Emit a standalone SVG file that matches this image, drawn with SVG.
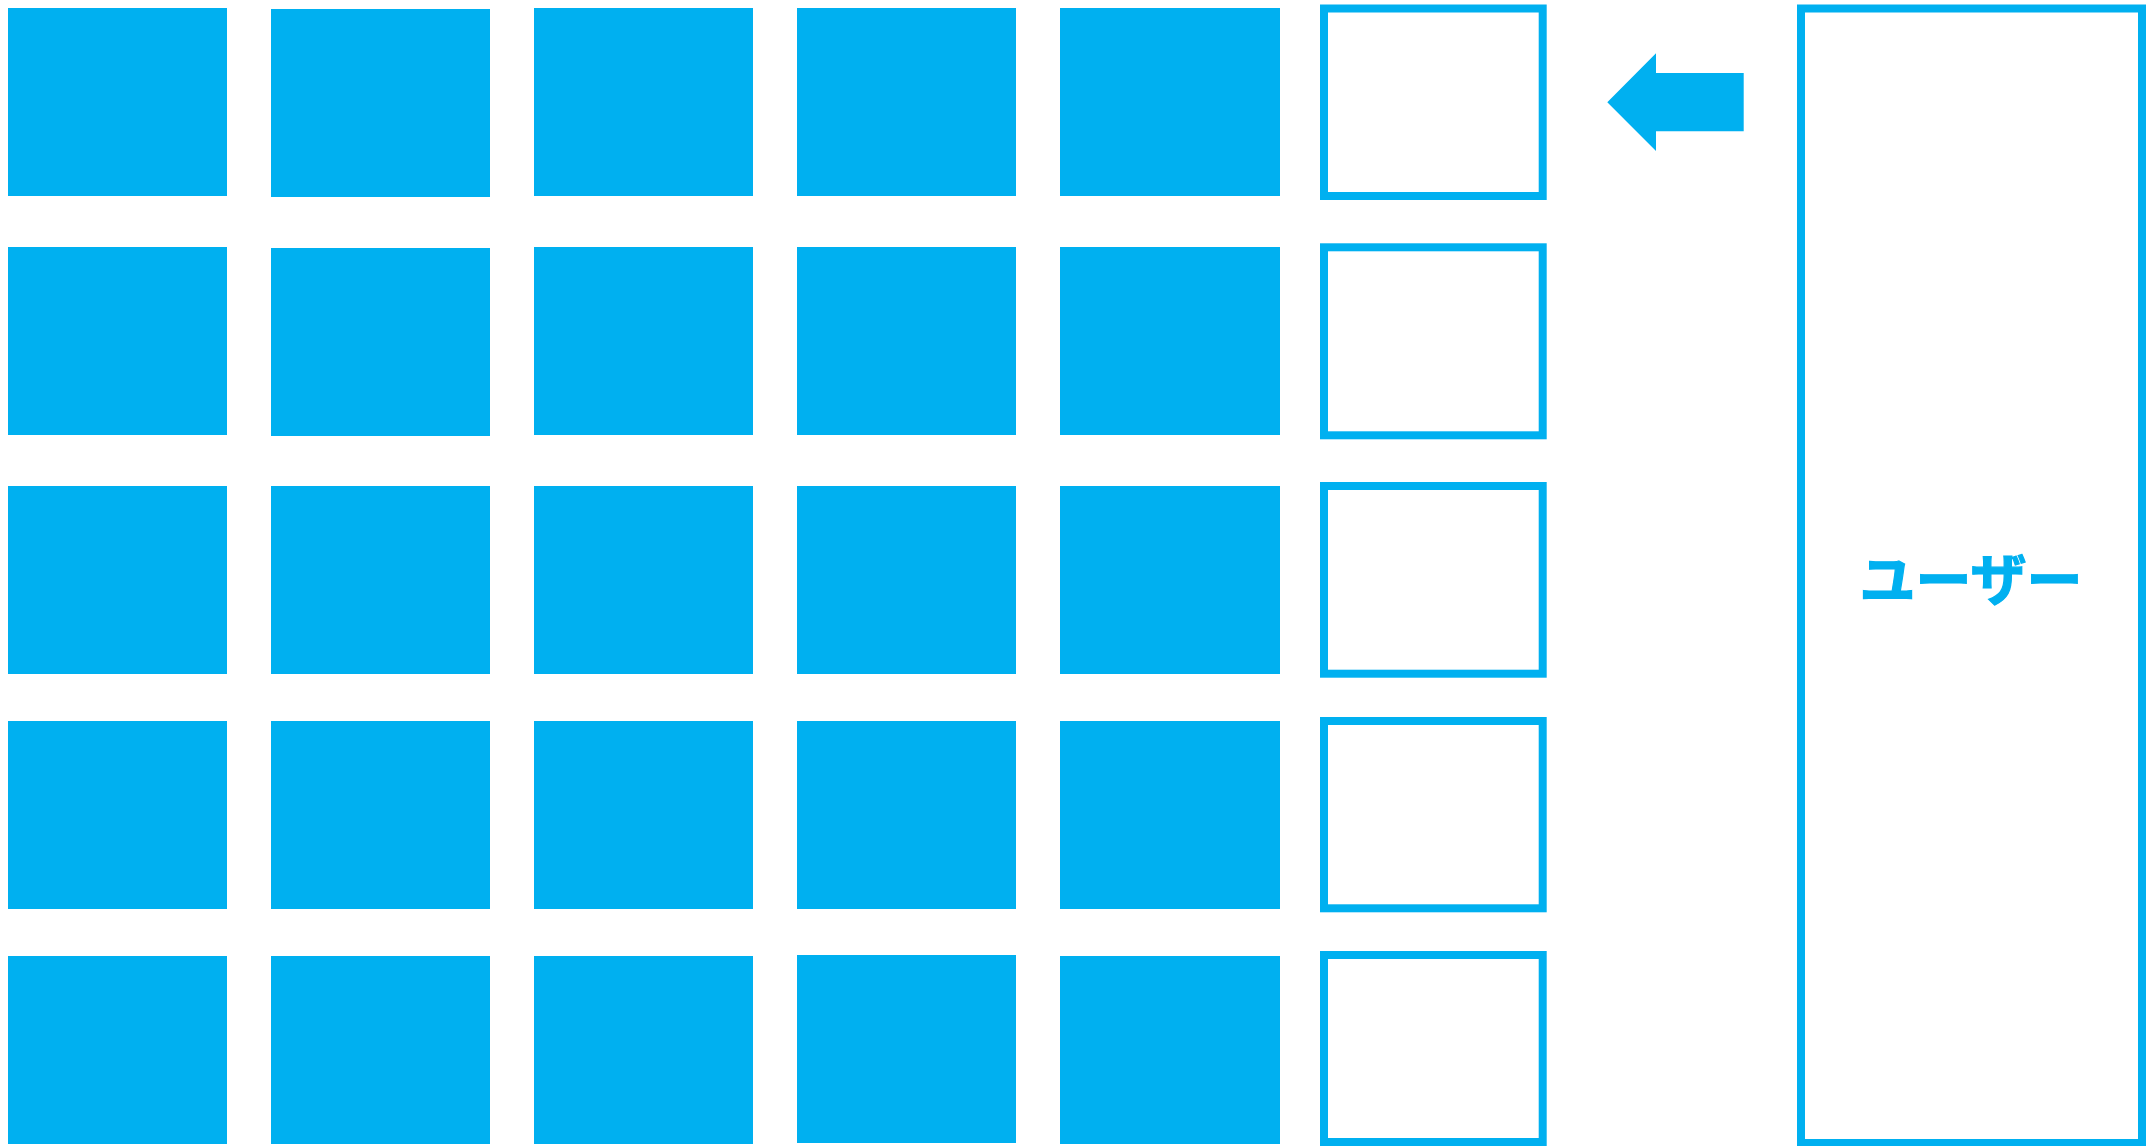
<svg xmlns="http://www.w3.org/2000/svg" width="2154" height="1146" viewBox="0 0 2154 1146">
<style>
.f{fill:#00B0F0}
.o{fill:#FFFFFF;stroke:#00B0F0;stroke-width:8}
.t{fill:#00B0F0;stroke:#00B0F0;stroke-width:1.2;font-family:"Noto Sans CJK JP","Noto Sans",sans-serif;font-weight:bold;font-size:56px}
</style>
<rect width="2154" height="1146" fill="#FFFFFF"/>
<g id="r1c1"><rect class="f" x="8" y="8" width="219" height="188"/></g>
<g id="r1c2"><rect class="f" x="271" y="9" width="219" height="188"/></g>
<g id="r1c3"><rect class="f" x="534" y="8" width="219" height="188"/></g>
<g id="r1c4"><rect class="f" x="797" y="8" width="219" height="188"/></g>
<g id="r1c5"><rect class="f" x="1060" y="8" width="220" height="188"/></g>
<g id="r1c6"><rect class="o" x="1324" y="8.5" width="218.7" height="187.5"/></g>
<g id="r2c1"><rect class="f" x="8" y="247" width="219" height="188"/></g>
<g id="r2c2"><rect class="f" x="271" y="248" width="219" height="188"/></g>
<g id="r2c3"><rect class="f" x="534" y="247" width="219" height="188"/></g>
<g id="r2c4"><rect class="f" x="797" y="247" width="219" height="188"/></g>
<g id="r2c5"><rect class="f" x="1060" y="247" width="220" height="188"/></g>
<g id="r2c6"><rect class="o" x="1324" y="247.3" width="218.7" height="188"/></g>
<g id="r3c1"><rect class="f" x="8" y="486" width="219" height="188"/></g>
<g id="r3c2"><rect class="f" x="271" y="486" width="219" height="188"/></g>
<g id="r3c3"><rect class="f" x="534" y="486" width="219" height="188"/></g>
<g id="r3c4"><rect class="f" x="797" y="486" width="219" height="188"/></g>
<g id="r3c5"><rect class="f" x="1060" y="486" width="220" height="188"/></g>
<g id="r3c6"><rect class="o" x="1324" y="486" width="218.7" height="187.7"/></g>
<g id="r4c1"><rect class="f" x="8" y="721" width="219" height="188"/></g>
<g id="r4c2"><rect class="f" x="271" y="721" width="219" height="188"/></g>
<g id="r4c3"><rect class="f" x="534" y="721" width="219" height="188"/></g>
<g id="r4c4"><rect class="f" x="797" y="721" width="219" height="188"/></g>
<g id="r4c5"><rect class="f" x="1060" y="721" width="220" height="188"/></g>
<g id="r4c6"><rect class="o" x="1324" y="721" width="218.7" height="187.3"/></g>
<g id="r5c1"><rect class="f" x="8" y="956" width="219" height="188"/></g>
<g id="r5c2"><rect class="f" x="271" y="956" width="219" height="188"/></g>
<g id="r5c3"><rect class="f" x="534" y="956" width="219" height="188"/></g>
<g id="r5c4"><rect class="f" x="797" y="955" width="219" height="188"/></g>
<g id="r5c5"><rect class="f" x="1060" y="956" width="220" height="188"/></g>
<g id="r5c6"><rect class="o" x="1324" y="955" width="218.7" height="187"/></g>
<g id="user">
<rect class="o" x="1801" y="8.5" width="341" height="1134.5"/>
<text class="t" x="1971" y="600" text-anchor="middle">ユーザー</text>
</g>
<g id="connectors">
<polygon class="f" points="1607.3,102.3 1656,53.3 1656,73 1743.7,73 1743.7,131.3 1656,131.3 1656,151"/>
</g>
</svg>
